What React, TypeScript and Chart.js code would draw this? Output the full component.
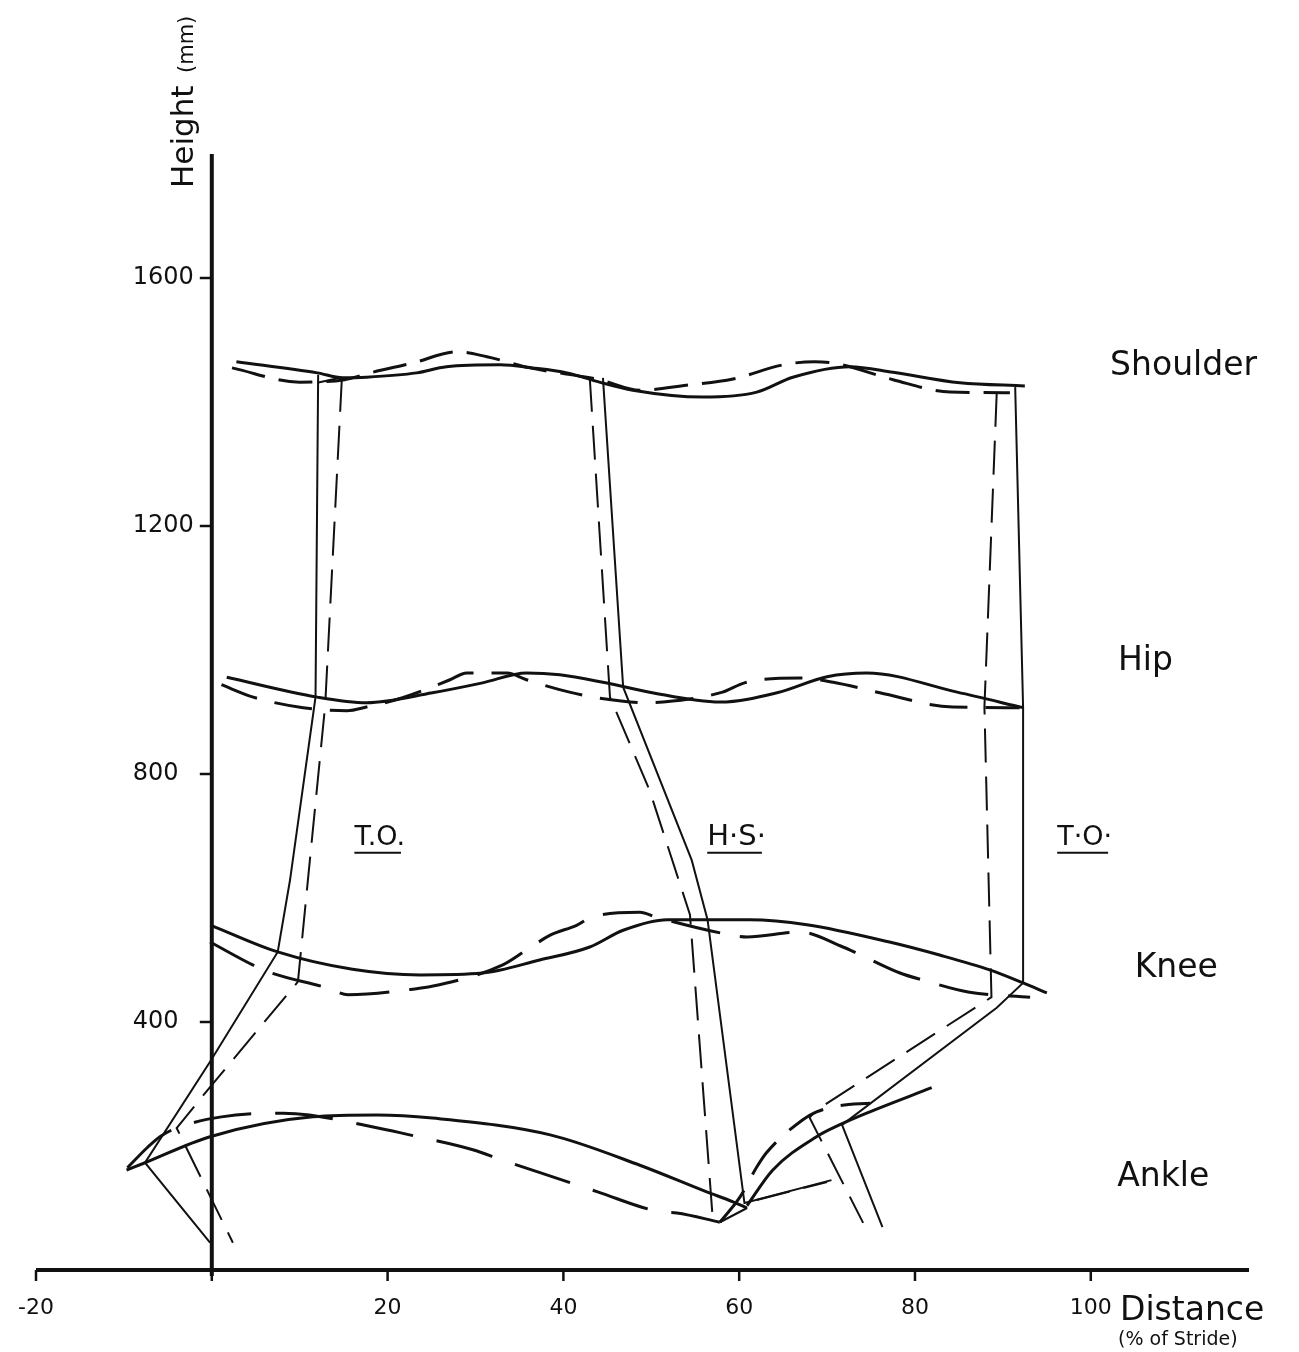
import React, { useEffect, useRef } from 'react';
import { Chart, registerables } from 'chart.js';

Chart.register(...registerables);

// ---------- axes ----------
const X_TICKS = [-20, 0, 20, 40, 60, 80, 100];
const X_TICK_LABELS = ['-20', '', '20', '40', '60', '80', '100'];
const Y_TICKS = [400, 800, 1200, 1600];
const Y_TICK_LABELS = ['400', '800', '1200', '1600'];
const X_AXIS_RANGE = [-20, 118];
const Y_AXIS_TOP = 1800;

// ---------- trajectories (x: % of stride, y: height mm) ----------
const shoulderSolidX = [2.8, 12.0, 14.9, 17.6, 23.3, 26.7, 32.8, 36.5, 40.4, 44.1, 47.9, 55.9, 62.0, 66.1, 72.6, 77.5, 85.1, 92.5];
const shoulderSolidY = [1465, 1447, 1439, 1440, 1447, 1457, 1460, 1455, 1447, 1432, 1419, 1408, 1416, 1440, 1457, 1448, 1431, 1426];
const shoulderDashX = [2.3, 10.0, 15.1, 18.3, 22.9, 27.9, 31.3, 36.2, 44.1, 48.7, 54.0, 59.3, 65.0, 68.6, 71.4, 77.5, 84.0, 90.8];
const shoulderDashY = [1455, 1432, 1436, 1448, 1463, 1481, 1473, 1455, 1436, 1419, 1427, 1437, 1460, 1465, 1461, 1436, 1416, 1415];

const hipSolidX = [1.7, 12.0, 17.6, 25.1, 30.8, 35.8, 39.6, 44.5, 49.8, 57.8, 64.3, 70.0, 74.5, 84.8, 92.3];
const hipSolidY = [956, 924, 915, 931, 947, 963, 960, 948, 932, 916, 931, 957, 963, 932, 907];
const hipDashX = [1.1, 4.7, 10.4, 15.4, 17.6, 21.7, 27.1, 29.0, 33.6, 35.8, 40.7, 43.8, 49.5, 51.3, 58.1, 60.6, 66.9, 70.7, 76.0, 84.3, 91.9];
const hipDashY = [944, 924, 907, 902, 908, 923, 952, 963, 963, 952, 932, 923, 915, 916, 932, 947, 955, 948, 931, 908, 907];

const kneeSolidX = [-0.1, 7.5, 16.0, 23.7, 30.8, 37.3, 43.0, 46.8, 51.8, 61.2, 67.7, 77.1, 82.8, 88.5, 92.3, 95.0];
const kneeSolidY = [556, 513, 485, 476, 479, 500, 521, 548, 565, 565, 557, 529, 508, 484, 463, 447];
const kneeDashX = [-0.2, 5.1, 6.8, 13.1, 15.5, 22.9, 25.9, 33.1, 35.8, 38.5, 41.5, 43.2, 48.7, 50.6, 58.1, 60.9, 66.9, 71.8, 73.4, 78.3, 80.8, 86.2, 93.1];
const kneeDashY = [529, 489, 479, 455, 444, 453, 460, 492, 516, 540, 556, 569, 577, 569, 543, 537, 545, 521, 511, 479, 468, 448, 440];

const ankleSolidX = [-9.7, -7.6, -0.2, 11.5, 18.8, 25.1, 38.5, 48.7, 56.3, 59.3, 60.9];
const ankleSolidY = [161, 173, 215, 247, 250, 245, 218, 169, 126, 110, 100];
const ankleSolid2X = [60.9, 63.8, 68.8, 71.4, 74.5, 81.9];
const ankleSolid2Y = [104, 161, 215, 234, 253, 294];
const ankleDashX = [-9.6, -7.3, -5.9, -4.0, 1.1, 8.1, 11.1, 18.9, 22.5, 29.7, 33.1, 39.9, 43.9, 51.0, 52.9, 57.8];
const ankleDashY = [165, 198, 215, 229, 247, 253, 250, 229, 218, 194, 177, 145, 126, 94, 92, 77];
const ankleDash2X = [57.8, 60.1, 62.0, 63.1, 67.2, 68.8, 71.4, 74.9];
const ankleDash2Y = [77, 118, 166, 189, 242, 255, 265, 269];

// ---------- stick figures (shoulder - hip - knee - ankle - toe) ----------
const toeOff1SolidX = [12.1, 11.8, 8.9, 7.5, -0.2, -7.6, -0.2];
const toeOff1SolidY = [1444, 924, 629, 513, 336, 173, 44];
const toeOff1DashX = [14.8, 12.9, 10.9, 9.8, -0.2, -4.0, 2.4];
const toeOff1DashY = [1439, 911, 624, 465, 295, 229, 44];
const toeOff1ShoulderLinkX = [12.0, 14.6];
const toeOff1ShoulderLinkY = [1431, 1439];
const heelStrikeSolidX = [44.5, 46.8, 54.6, 56.4, 60.6, 70.5];
const heelStrikeSolidY = [1439, 940, 661, 565, 108, 145];
const heelStrikeDashX = [43.0, 45.3, 49.8, 54.4, 57.0];
const heelStrikeDashY = [1439, 924, 774, 573, 81];
const heelStrikeFootDashX = [62.0, 70.0];
const heelStrikeFootDashY = [113, 142];
const heelLinkX = [57.8, 60.9];
const heelLinkY = [77, 100];
const toeOff2SolidX = [91.4, 92.3, 92.3, 89.3, 71.7, 76.3];
const toeOff2SolidY = [1424, 907, 463, 423, 234, 69];
const toeOff2DashX = [89.3, 87.9, 88.7, 68.8, 68.0, 74.1];
const toeOff2DashY = [1415, 908, 440, 258, 246, 76];

// ---------- annotations ----------
const SEGMENT_LABELS = ['Shoulder', 'Hip', 'Knee', 'Ankle'];
const SEGMENT_LABEL_X = [102.2, 103.1, 105.0, 103.0];
const SEGMENT_LABEL_Y = [1458, 981, 487, 150];
const EVENT_LABELS = ['T.O.', 'H·S·', 'T·O·'];
const EVENT_LABEL_X = [19.1, 59.7, 99.3];
const EVENT_LABEL_Y = [697, 697, 697];

const INK = '#111';
const FONT = '"DejaVu Sans", "Liberation Sans", sans-serif';

const zip = (xs: number[], ys: number[]) => xs.map((x, i) => ({ x, y: ys[i] }));

type Kind = 'trajSolid' | 'trajDash' | 'limbSolid' | 'limbDash';
const series: { xs: number[]; ys: number[]; kind: Kind; dash?: number[] }[] = [
  { xs: shoulderSolidX, ys: shoulderSolidY, kind: 'trajSolid' },
  { xs: shoulderDashX, ys: shoulderDashY, kind: 'trajDash', dash: [34, 14] },
  { xs: hipSolidX, ys: hipSolidY, kind: 'trajSolid' },
  { xs: hipDashX, ys: hipDashY, kind: 'trajDash', dash: [38, 18] },
  { xs: kneeSolidX, ys: kneeSolidY, kind: 'trajSolid' },
  { xs: kneeDashX, ys: kneeDashY, kind: 'trajDash', dash: [50, 20] },
  { xs: ankleSolidX, ys: ankleSolidY, kind: 'trajSolid' },
  { xs: ankleSolid2X, ys: ankleSolid2Y, kind: 'trajSolid' },
  { xs: ankleDashX, ys: ankleDashY, kind: 'trajDash', dash: [58, 24] },
  { xs: ankleDash2X, ys: ankleDash2Y, kind: 'trajDash', dash: [40, 18] },
  { xs: toeOff1SolidX, ys: toeOff1SolidY, kind: 'limbSolid' },
  { xs: toeOff1DashX, ys: toeOff1DashY, kind: 'limbDash' },
  { xs: toeOff1ShoulderLinkX, ys: toeOff1ShoulderLinkY, kind: 'limbSolid' },
  { xs: heelStrikeSolidX, ys: heelStrikeSolidY, kind: 'limbSolid' },
  { xs: heelStrikeDashX, ys: heelStrikeDashY, kind: 'limbDash' },
  { xs: heelStrikeFootDashX, ys: heelStrikeFootDashY, kind: 'limbDash' },
  { xs: heelLinkX, ys: heelLinkY, kind: 'limbSolid' },
  { xs: toeOff2SolidX, ys: toeOff2SolidY, kind: 'limbSolid' },
  { xs: toeOff2DashX, ys: toeOff2DashY, kind: 'limbDash' },
];

const datasets = series.map((s) => {
  const traj = s.kind === 'trajSolid' || s.kind === 'trajDash';
  const dashed = s.kind === 'trajDash' || s.kind === 'limbDash';
  return {
    data: zip(s.xs, s.ys),
    showLine: true,
    borderColor: INK,
    backgroundColor: INK,
    borderWidth: traj ? 3 : 2,
    borderDash: dashed ? s.dash || [34, 14] : [],
    pointRadius: 0,
    fill: false,
    tension: traj ? 0.4 : 0,
    cubicInterpolationMode: traj ? ('monotone' as const) : ('default' as const),
    clip: false as const,
  };
});

const handAxes = {
  id: 'handAxes',
  afterDatasetsDraw(chart: any) {
    const { ctx } = chart;
    const xs = chart.scales.x;
    const ys = chart.scales.y;
    const x0 = xs.getPixelForValue(0);
    const y0 = ys.getPixelForValue(0);
    ctx.save();
    ctx.strokeStyle = INK;
    ctx.fillStyle = INK;
    ctx.setLineDash([]);
    ctx.lineCap = 'butt';

    // axis lines
    ctx.lineWidth = 4;
    ctx.beginPath();
    ctx.moveTo(xs.getPixelForValue(X_AXIS_RANGE[0]), y0);
    ctx.lineTo(xs.getPixelForValue(X_AXIS_RANGE[1]), y0);
    ctx.stroke();
    ctx.beginPath();
    ctx.moveTo(x0, y0 + 6);
    ctx.lineTo(x0, ys.getPixelForValue(Y_AXIS_TOP));
    ctx.stroke();

    // x ticks
    ctx.lineWidth = 2.5;
    ctx.font = `22px ${FONT}`;
    ctx.textAlign = 'center';
    ctx.textBaseline = 'middle';
    X_TICKS.forEach((v, i) => {
      const px = xs.getPixelForValue(v);
      ctx.beginPath();
      ctx.moveTo(px, y0);
      ctx.lineTo(px, y0 + 11);
      ctx.stroke();
      if (X_TICK_LABELS[i]) ctx.fillText(X_TICK_LABELS[i], px, y0 + 38);
    });

    // y ticks
    ctx.font = `24px ${FONT}`;
    ctx.textAlign = 'left';
    Y_TICKS.forEach((v, i) => {
      const py = ys.getPixelForValue(v);
      ctx.beginPath();
      ctx.moveTo(x0 - 12, py);
      ctx.lineTo(x0, py);
      ctx.stroke();
      ctx.fillText(Y_TICK_LABELS[i], x0 - 79, py);
    });

    // y axis title (rotated)
    ctx.save();
    ctx.translate(x0 - 19, ys.getPixelForValue(Y_AXIS_TOP) + 34);
    ctx.rotate(-Math.PI / 2);
    ctx.textAlign = 'left';
    ctx.textBaseline = 'alphabetic';
    ctx.font = `31px ${FONT}`;
    ctx.fillText('Height', 0, 0);
    ctx.font = `21px ${FONT}`;
    ctx.fillText('(mm)', 115, 0);
    ctx.restore();

    // x axis title
    ctx.textAlign = 'left';
    ctx.textBaseline = 'alphabetic';
    ctx.font = `33px ${FONT}`;
    ctx.fillText('Distance', xs.getPixelForValue(X_AXIS_RANGE[1]) - 129, y0 + 50);
    ctx.font = `19px ${FONT}`;
    ctx.fillText('(% of Stride)', xs.getPixelForValue(X_AXIS_RANGE[1]) - 131, y0 + 75);

    // segment labels
    ctx.font = `33px ${FONT}`;
    ctx.textBaseline = 'middle';
    SEGMENT_LABELS.forEach((t, i) => {
      ctx.fillText(t, xs.getPixelForValue(SEGMENT_LABEL_X[i]), ys.getPixelForValue(SEGMENT_LABEL_Y[i]));
    });

    // event labels (underlined)
    ctx.textAlign = 'center';
    ctx.lineWidth = 2;
    EVENT_LABELS.forEach((t, i) => {
      ctx.font = `${i === 1 ? 29 : 27}px ${FONT}`;
      const cx = xs.getPixelForValue(EVENT_LABEL_X[i]);
      const cy = ys.getPixelForValue(EVENT_LABEL_Y[i]);
      ctx.fillText(t, cx, cy);
      const w = ctx.measureText(t).width;
      ctx.beginPath();
      ctx.moveTo(cx - w / 2, cy + 15);
      ctx.lineTo(cx + w / 2 - 4, cy + 15);
      ctx.stroke();
    });

    ctx.restore();
  },
};

export default function App() {
  const ref = useRef<HTMLCanvasElement>(null);
  useEffect(() => {
    if (!ref.current) return;
    const chart = new Chart(ref.current, {
      type: 'scatter',
      data: { datasets: datasets as any },
      options: {
        animation: false,
        responsive: false,
        devicePixelRatio: 1,
        events: [],
        layout: { padding: { left: 36, right: 50, top: 154, bottom: 82 } },
        plugins: { legend: { display: false }, tooltip: { enabled: false } },
        scales: {
          x: { type: 'linear', min: X_AXIS_RANGE[0], max: X_AXIS_RANGE[1], display: false },
          y: { type: 'linear', min: 0, max: Y_AXIS_TOP, display: false },
        },
      },
      plugins: [handAxes],
    });
    return () => chart.destroy();
  }, []);
  return (
    <div style={{ position: 'fixed', left: 0, top: 0, width: 1299, height: 1352, background: '#fff' }}>
      <canvas ref={ref} width={1299} height={1352} style={{ display: 'block' }} />
    </div>
  );
}
